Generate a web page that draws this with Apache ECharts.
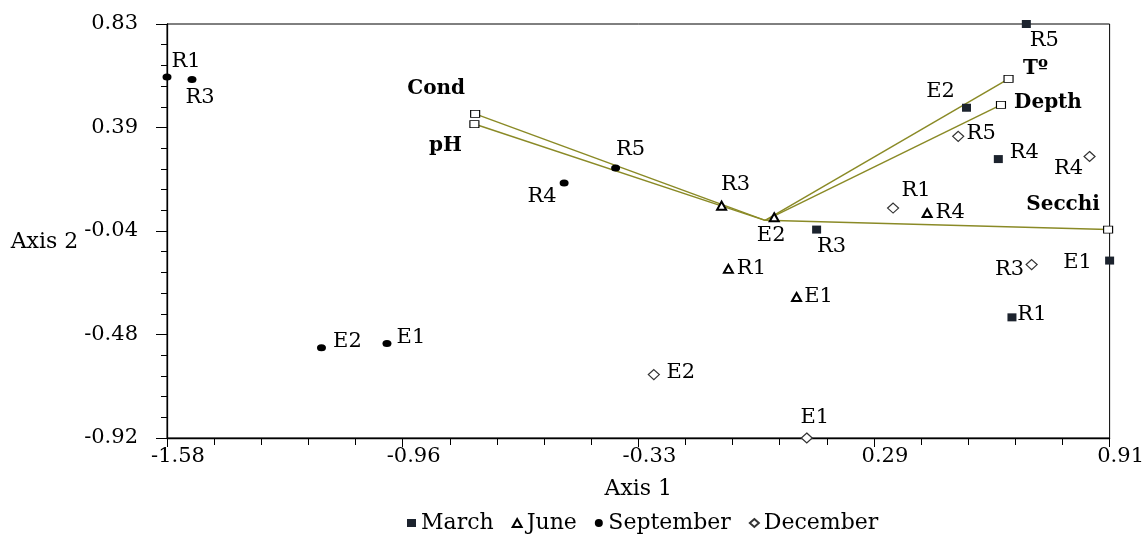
<!DOCTYPE html>
<html>
<head>
<meta charset="utf-8">
<script src="https://cdn.jsdelivr.net/npm/echarts@6/dist/echarts.min.js"></script>
<style>
  html, body { margin: 0; padding: 0; background: #fff; }
  #chart { width: 1147px; height: 535px; }
</style>
</head>
<body>
<div id="chart"></div>
<script>
// Tick labels of the two ordination axes
const axis1Ticks = ['-1.58', '-0.96', '-0.33', '0.29', '0.91'];
const axis2Ticks = ['-0.92', '-0.48', '-0.04', '0.39', '0.83'];

// Sampling sites, one set of scores per season
const marchSites = ['R5', 'E2', 'R4', 'R3', 'E1', 'R1'];
const marchAxis1 = [0.69, 0.532, 0.616, 0.136, 0.91, 0.652];
const marchAxis2 = [0.83, 0.476, 0.259, -0.039, -0.17, -0.41];

const juneSites = ['R3', 'E2', 'R4', 'R1', 'E1'];
const juneAxis1 = [-0.115, 0.024, 0.428, -0.097, 0.083];
const juneAxis2 = [0.062, 0.013, 0.031, -0.205, -0.324];

const septemberSites = ['R1', 'R3', 'R4', 'R5', 'E2', 'E1'];
const septemberAxis1 = [-1.58, -1.514, -0.531, -0.395, -1.172, -0.999];
const septemberAxis2 = [0.606, 0.595, 0.158, 0.221, -0.538, -0.521];

const decemberSites = ['R5', 'R4', 'R1', 'R3', 'E2', 'E1'];
const decemberAxis1 = [0.51, 0.857, 0.338, 0.704, -0.294, 0.11];
const decemberAxis2 = [0.355, 0.27, 0.052, -0.187, -0.652, -0.92];

// Environmental variables (biplot arrows from the origin)
const variables = ['Cond', 'pH', 'Tº', 'Depth', 'Secchi'];
const variableAxis1 = [-0.766, -0.768, 0.643, 0.623, 0.906];
const variableAxis2 = [0.45, 0.407, 0.598, 0.488, -0.039];

// Label placement (offset of the text centre from the marker centre)
const labelOffsets = {
  'March:R5': [18, 17], 'March:E2': [-26, -16], 'March:R4': [26, -7],
  'March:R3': [15, 17], 'March:E1': [-32, 2], 'March:R1': [20, -3],
  'June:R3': [14, -21], 'June:E2': [-3, 18], 'June:R4': [23, 0],
  'June:R1': [23, 0], 'June:E1': [22, 0],
  'September:R1': [19, -15], 'September:R3': [8, 18], 'September:R4': [-22, 14],
  'September:R5': [15, -19], 'September:E2': [26, -6], 'September:E1': [24, -6],
  'December:R5': [23, -3], 'December:R4': [-21, 12], 'December:R1': [23, -18],
  'December:R3': [-22, 5], 'December:E2': [27, -2], 'December:E1': [8, -20],
  'Cond': [-39, -25], 'pH': [-29, 22], 'Tº': [27, -10], 'Depth': [47, -2], 'Secchi': [-45, -25]
};

const FONT = 'DejaVu Serif';
const TEXT = '#000';
const X_MIN = -1.58, X_MAX = 0.91, Y_MIN = -0.92, Y_MAX = 0.83;
const X_STEP = (X_MAX - X_MIN) / (axis1Ticks.length - 1);
const Y_STEP = (Y_MAX - Y_MIN) / (axis2Ticks.length - 1);

function tickText(labels, min, step) {
  return function (v) {
    const i = Math.round((v - min) / step);
    return labels[i] !== undefined ? labels[i] : '';
  };
}

function siteSeries(season, sites, xs, ys, symbol, size, itemStyle) {
  return {
    name: season,
    type: 'scatter',
    symbol: symbol,
    symbolSize: size,
    clip: false,
    z: 4,
    itemStyle: Object.assign({ opacity: 1 }, itemStyle),
    data: sites.map((s, i) => ({
      name: s,
      value: [xs[i], ys[i]],
      label: {
        show: true,
        position: 'inside',
        offset: labelOffsets[season + ':' + s] || [0, 0],
        formatter: s,
        color: TEXT,
        fontFamily: FONT,
        fontSize: 21
      }
    }))
  };
}

const series = [];

// Arrows: one segment from the origin to each variable score
variables.forEach((v, i) => {
  series.push({
    type: 'line',
    silent: true,
    symbol: 'none',
    z: 2,
    lineStyle: { color: '#8a8a26', width: 1.5 },
    data: [[0, 0], [variableAxis1[i], variableAxis2[i]]]
  });
});

series.push({
  name: 'variables',
  type: 'scatter',
  symbol: 'rect',
  symbolSize: [9, 7],
  clip: false,
  z: 5,
  itemStyle: { color: '#fff', borderColor: '#000', borderWidth: 1, opacity: 1 },
  data: variables.map((v, i) => ({
    name: v,
    value: [variableAxis1[i], variableAxis2[i]],
    label: {
      show: true,
      position: 'inside',
      offset: labelOffsets[v],
      formatter: v,
      color: TEXT,
      fontFamily: FONT,
      fontWeight: 'bold',
      fontSize: 20
    }
  }))
});

series.push(siteSeries('March', marchSites, marchAxis1, marchAxis2, 'rect', [9, 8],
  { color: '#1c232e' }));
series.push(siteSeries('June', juneSites, juneAxis1, juneAxis2, 'triangle', [9, 8],
  { color: '#fff', borderColor: '#000', borderWidth: 2 }));
series.push(siteSeries('September', septemberSites, septemberAxis1, septemberAxis2, 'circle', [9, 7],
  { color: '#000' }));
series.push(siteSeries('December', decemberSites, decemberAxis1, decemberAxis2, 'diamond', [11, 10],
  { color: '#fff', borderColor: '#333', borderWidth: 1.2 }));

const chart = echarts.init(document.getElementById('chart'), null, { renderer: 'canvas' });
chart.setOption({
  animation: false,
  backgroundColor: '#fff',
  grid: {
    left: 167, right: 35, top: 24, bottom: 97,
    show: true, borderColor: '#000', borderWidth: 1, backgroundColor: 'transparent'
  },
  legend: {
    data: ['March', 'June', 'September', 'December'],
    left: 402, top: 507,
    itemWidth: 9, itemHeight: 8, itemGap: 18,
    textStyle: { fontFamily: FONT, fontSize: 22, color: TEXT }
  },
  xAxis: {
    type: 'value',
    min: X_MIN, max: X_MAX, interval: X_STEP,
    name: 'Axis 1', nameLocation: 'middle', nameGap: 40,
    nameTextStyle: { fontFamily: FONT, fontSize: 22, color: TEXT },
    axisLine: { onZero: false, lineStyle: { color: '#000', width: 1.3 } },
    axisTick: { show: true, length: 9, lineStyle: { color: '#000' } },
    minorTick: { show: true, splitNumber: 5, length: 7, lineStyle: { color: '#000' } },
    splitLine: { show: false },
    axisLabel: {
      fontFamily: FONT, fontSize: 21, color: TEXT, margin: 8,
      padding: [0, 0, 0, 22],
      formatter: tickText(axis1Ticks, X_MIN, X_STEP)
    }
  },
  yAxis: {
    type: 'value',
    min: Y_MIN, max: Y_MAX, interval: Y_STEP,
    name: 'Axis 2', nameLocation: 'middle', nameGap: 87, nameRotate: 0,
    nameTextStyle: { fontFamily: FONT, fontSize: 22, color: TEXT, verticalAlign: 'top', padding: [0, 0, 0, 0] },
    axisLine: { onZero: false, lineStyle: { color: '#000', width: 1.3 } },
    axisTick: { show: true, length: 11, lineStyle: { color: '#000' } },
    minorTick: { show: true, splitNumber: 5, length: 6, lineStyle: { color: '#000' } },
    splitLine: { show: false },
    axisLabel: {
      fontFamily: FONT, fontSize: 21, color: TEXT, margin: 29,
      formatter: tickText(axis2Ticks, Y_MIN, Y_STEP)
    }
  },
  series: series
});
</script>
</body>
</html>
